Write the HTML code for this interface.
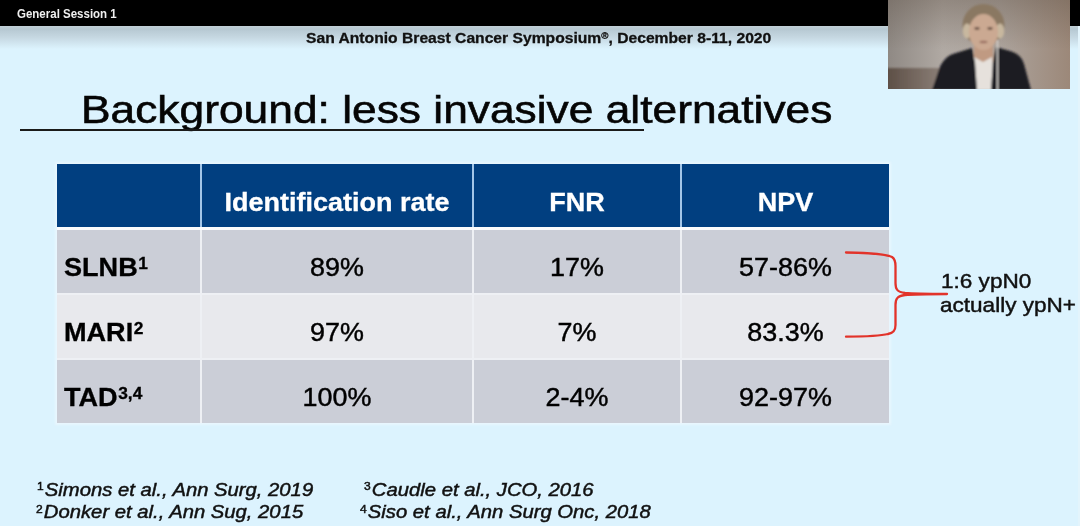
<!DOCTYPE html>
<html><head><meta charset="utf-8">
<style>
*{margin:0;padding:0;box-sizing:border-box}
html,body{width:1080px;height:526px;overflow:hidden;background:#dcf3fe;font-family:"Liberation Sans",sans-serif;color:#000}
.t{position:absolute;white-space:nowrap;line-height:1}
.r{position:absolute}
.c{text-align:center}
.st{-webkit-text-stroke:0.45px currentColor}
.sb{-webkit-text-stroke:0.3px currentColor}
.sti{-webkit-text-stroke:0.6px currentColor}
</style></head><body>

<div class="r" style="left:0;top:0;width:1080px;height:26px;background:#000"></div>
<div class="r" style="left:0;top:26px;width:1080px;height:24px;background:linear-gradient(#c2d0d7 0px,#b6c8d2 3px,#c7d9e3 12px,#dcf3fe 23px)"></div>
<div class="r" style="left:1078px;top:26px;width:2px;height:500px;background:#e3f4fc"></div>
<div class="t" style="left:17px;top:8px;font-size:12.5px;transform:scaleX(0.92);transform-origin:0 0;font-weight:bold;color:#f0f0f0;">General Session 1</div>
<div class="t sb" style="left:306px;top:31px;font-size:14.5px;transform:scaleX(1.08);transform-origin:0 0;font-weight:bold;color:#111;">San Antonio Breast Cancer Symposium<span style="font-size:9px;vertical-align:top;position:relative;top:1px">&reg;</span>, December 8-11, 2020</div>
<div class="t sti" style="left:81.2px;top:90px;font-size:39.5px;transform:scaleX(1.122);transform-origin:0 0;color:#050505;">Background: less invasive alternatives</div>
<div class="r" style="left:20px;top:129.3px;width:624px;height:1.9px;background:#1a1a1a"></div>
<div class="r" style="left:55px;top:162px;width:836px;height:263px;background:#e9f7fe;filter:blur(1px)"></div>
<div class="r" style="left:57px;top:164px;width:832px;height:259px;background:#eef0f4"></div>
<div class="r" style="left:57px;top:164px;width:832px;height:63px;background:#a3c6e8"></div>
<div class="r" style="left:57px;top:227px;width:832px;height:3px;background:#fbfcfd"></div>
<div class="r" style="left:57px;top:164px;width:143px;height:63px;background:#013f80"></div>
<div class="r" style="left:202px;top:164px;width:270px;height:63px;background:#013f80"></div>
<div class="r" style="left:474px;top:164px;width:206px;height:63px;background:#013f80"></div>
<div class="r" style="left:682px;top:164px;width:207px;height:63px;background:#013f80"></div>
<div class="r" style="left:57px;top:230px;width:143px;height:63px;background:#cbced7"></div>
<div class="r" style="left:202px;top:230px;width:270px;height:63px;background:#cbced7"></div>
<div class="r" style="left:474px;top:230px;width:206px;height:63px;background:#cbced7"></div>
<div class="r" style="left:682px;top:230px;width:207px;height:63px;background:#cbced7"></div>
<div class="r" style="left:57px;top:295px;width:143px;height:63px;background:#e8e9ed"></div>
<div class="r" style="left:202px;top:295px;width:270px;height:63px;background:#e8e9ed"></div>
<div class="r" style="left:474px;top:295px;width:206px;height:63px;background:#e8e9ed"></div>
<div class="r" style="left:682px;top:295px;width:207px;height:63px;background:#e8e9ed"></div>
<div class="r" style="left:57px;top:360px;width:143px;height:63px;background:#cbced7"></div>
<div class="r" style="left:202px;top:360px;width:270px;height:63px;background:#cbced7"></div>
<div class="r" style="left:474px;top:360px;width:206px;height:63px;background:#cbced7"></div>
<div class="r" style="left:682px;top:360px;width:207px;height:63px;background:#cbced7"></div>
<div class="t c sb" style="left:202px;top:190px;font-size:25px;width:270px;transform:scaleX(1.08);transform-origin:50% 0;font-weight:bold;color:#fff;">Identification rate</div>
<div class="t c sb" style="left:474px;top:190px;font-size:25px;width:206px;transform:scaleX(1.08);transform-origin:50% 0;font-weight:bold;color:#fff;">FNR</div>
<div class="t c sb" style="left:682px;top:190px;font-size:25px;width:207px;transform:scaleX(1.08);transform-origin:50% 0;font-weight:bold;color:#fff;">NPV</div>
<div class="t sb" style="left:64px;top:255px;font-size:25px;transform:scaleX(1.083);transform-origin:0 0;font-weight:bold;color:#000;">SLNB<span style="font-size:16px;position:relative;top:1px;vertical-align:top;margin-left:0.5px">1</span></div>
<div class="t c st" style="left:202px;top:254.4px;font-size:26px;width:270px;transform:scaleX(1.035);transform-origin:50% 0;color:#000;">89%</div>
<div class="t c st" style="left:474px;top:254.4px;font-size:26px;width:206px;transform:scaleX(1.035);transform-origin:50% 0;color:#000;">17%</div>
<div class="t c st" style="left:682px;top:254.4px;font-size:26px;width:207px;transform:scaleX(1.035);transform-origin:50% 0;color:#000;">57-86%</div>
<div class="t sb" style="left:64px;top:320px;font-size:25px;transform:scaleX(1.083);transform-origin:0 0;font-weight:bold;color:#000;">MARI<span style="font-size:16px;position:relative;top:1px;vertical-align:top;margin-left:0.5px">2</span></div>
<div class="t c st" style="left:202px;top:319.4px;font-size:26px;width:270px;transform:scaleX(1.035);transform-origin:50% 0;color:#000;">97%</div>
<div class="t c st" style="left:474px;top:319.4px;font-size:26px;width:206px;transform:scaleX(1.035);transform-origin:50% 0;color:#000;">7%</div>
<div class="t c st" style="left:682px;top:319.4px;font-size:26px;width:207px;transform:scaleX(1.035);transform-origin:50% 0;color:#000;">83.3%</div>
<div class="t sb" style="left:64px;top:385px;font-size:25px;transform:scaleX(1.083);transform-origin:0 0;font-weight:bold;color:#000;">TAD<span style="font-size:16px;position:relative;top:1px;vertical-align:top;margin-left:0.5px">3,4</span></div>
<div class="t c st" style="left:202px;top:384.4px;font-size:26px;width:270px;transform:scaleX(1.035);transform-origin:50% 0;color:#000;">100%</div>
<div class="t c st" style="left:474px;top:384.4px;font-size:26px;width:206px;transform:scaleX(1.035);transform-origin:50% 0;color:#000;">2-4%</div>
<div class="t c st" style="left:682px;top:384.4px;font-size:26px;width:207px;transform:scaleX(1.035);transform-origin:50% 0;color:#000;">92-97%</div>
<svg class="r" style="left:0;top:0" width="1080" height="526"><path d="M846 252.5 C870 253 886 254 892 257 C895 259 895.5 262 895.5 266 L895.5 283 C895.5 289 897 292 905 293 C915 294 930 294 947 294 M947 294 C930 294 915 294 905 295 C897 296 895.5 299 895.5 305 L895.5 325 C895.5 330 894 333 888 334 C880 336 865 336.5 846 336.7" fill="none" stroke="#e2332a" stroke-width="2.3" stroke-linecap="round" stroke-linejoin="round"/></svg>
<div class="t st" style="left:941px;top:270.5px;font-size:20.5px;transform:scaleX(1.1);transform-origin:0 0;color:#111;">1:6 ypN0</div>
<div class="t st" style="left:940px;top:295.4px;font-size:20.5px;transform:scaleX(1.1);transform-origin:0 0;color:#111;">actually ypN+</div>
<div class="t st" style="left:37px;top:481.8px;font-size:17.7px;transform:scaleX(1.145);transform-origin:0 0;font-style:italic;color:#111;"><span style="font-size:10.5px;font-style:normal;position:relative;top:-1.3px;vertical-align:top;margin-right:1px">1</span>Simons et al., Ann Surg, 2019</div>
<div class="t st" style="left:36px;top:503.8px;font-size:17.7px;transform:scaleX(1.145);transform-origin:0 0;font-style:italic;color:#111;"><span style="font-size:10.5px;font-style:normal;position:relative;top:0.3px;vertical-align:top;margin-right:1px">2</span>Donker et al., Ann Sug, 2015</div>
<div class="t st" style="left:364px;top:481.8px;font-size:17.7px;transform:scaleX(1.145);transform-origin:0 0;font-style:italic;color:#111;"><span style="font-size:10.5px;font-style:normal;position:relative;top:-1.3px;vertical-align:top;margin-right:1px">3</span>Caudle et al., JCO, 2016</div>
<div class="t st" style="left:360px;top:503.8px;font-size:17.7px;transform:scaleX(1.145);transform-origin:0 0;font-style:italic;color:#111;"><span style="font-size:10.5px;font-style:normal;position:relative;top:0.0px;vertical-align:top;margin-right:1px">4</span>Siso et al., Ann Surg Onc, 2018</div>
<svg class="r" style="left:888px;top:0" width="182" height="89" viewBox="0 0 182 89">
<defs>
<linearGradient id="bgx" x1="0" x2="1" y1="0" y2="0">
<stop offset="0" stop-color="#8f8984"/><stop offset="0.3" stop-color="#b0a9a3"/><stop offset="0.62" stop-color="#aca39c"/><stop offset="1" stop-color="#9c8879"/>
</linearGradient>
<linearGradient id="bgy" x1="0" x2="0" y1="0" y2="1">
<stop offset="0" stop-color="#5a4c40" stop-opacity="0.35"/><stop offset="0.55" stop-color="#5a4c40" stop-opacity="0"/>
</linearGradient>
<linearGradient id="couch" x1="0" x2="1" y1="0" y2="0">
<stop offset="0" stop-color="#5c4e45"/><stop offset="1" stop-color="#8a7e76"/>
</linearGradient>
<filter id="bl" x="-10%" y="-10%" width="120%" height="120%"><feGaussianBlur stdDeviation="0.8"/></filter>
</defs>
<rect width="182" height="89" fill="url(#bgx)"/>
<rect width="182" height="89" fill="url(#bgy)"/>
<g filter="url(#bl)">
<rect x="-2" y="68" width="54" height="23" fill="url(#couch)"/>
<ellipse cx="95.5" cy="25" rx="21" ry="21" fill="#8a7862"/>
<ellipse cx="79" cy="31" rx="4.2" ry="7.5" fill="#c8b89f"/>
<ellipse cx="112" cy="31" rx="4.2" ry="7.5" fill="#c8b89f"/>
<rect x="86" y="40" width="19" height="22" fill="#c09a82"/>
<ellipse cx="95.5" cy="32" rx="14.5" ry="18" fill="#cba992"/>
<ellipse cx="89" cy="28.5" rx="2.8" ry="1.4" fill="#6e5548"/>
<ellipse cx="102" cy="28.5" rx="2.8" ry="1.4" fill="#6e5548"/>
<ellipse cx="95.5" cy="42" rx="4" ry="1.2" fill="#9a6e60"/>
<path d="M86 57 L95 62 L104 57 L106 90 L85 90 Z" fill="#e6e1dc"/>
<path d="M44 90 L50 72 Q55 56 68 53 L84 48 L87 62 L89 90 Z" fill="#1b1c24"/>
<path d="M103 90 L105 62 L108 47 L122 51 Q133 54 136 64 L143 90 Z" fill="#1b1c24"/>
<line x1="109.5" y1="40" x2="109.5" y2="90" stroke="#ece8e4" stroke-width="1"/>
</g>
</svg>
</body></html>
